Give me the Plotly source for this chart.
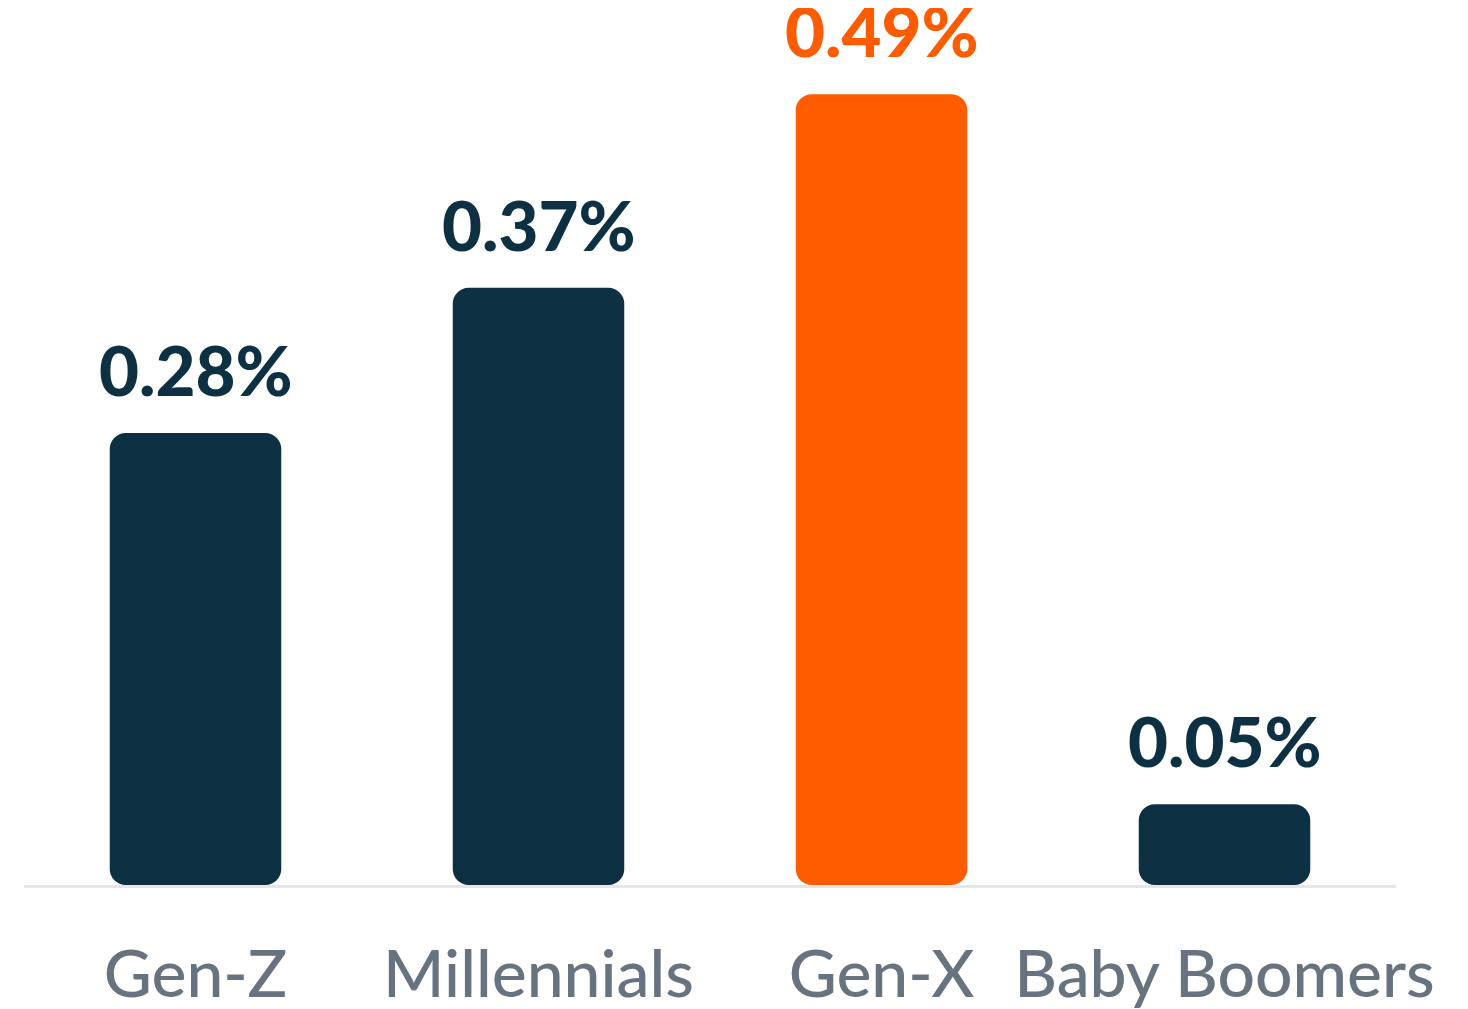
import plotly.graph_objects as go

categories = ["Gen-Z", "Millennials", "Gen-X", "Baby Boomers"]
values = [0.28, 0.37, 0.49, 0.05]
labels = ["0.28%", "0.37%", "0.49%", "0.05%"]
colors = ["#0e3043", "#0e3043", "#ff5c00", "#0e3043"]
bases = [0, 0, 0, 0]

fig = go.Figure()
fig.add_trace(go.Bar(x=categories, y=values, base=bases,
                     marker=dict(color=colors, line=dict(width=0)),
                     hoverinfo="skip", showlegend=False))

for c, v, t, col in zip(categories, values, labels, colors):
    fig.add_annotation(x=c, y=v, text=t, showarrow=False, yanchor="bottom", yshift=20,
                       font=dict(family="Lato", size=69, color=col, weight=900))

fig.update_layout(
    width=1468, height=1009,
    margin=dict(l=16, r=80, t=70, b=132),
    paper_bgcolor="white", plot_bgcolor="white",
    barmode="overlay", bargap=0.5, barcornerradius=16,
    xaxis=dict(showline=True, linecolor="#e4e6e9", linewidth=3, layer="below traces",
               showgrid=False, ticks="", ticklabelstandoff=30, automargin=False,
               tickfont=dict(family="Lato", size=66, color="#67737e", weight=500)),
    yaxis=dict(range=[0, 0.5], visible=False, showgrid=False, zeroline=False),
)

fig.write_html("out.html")
